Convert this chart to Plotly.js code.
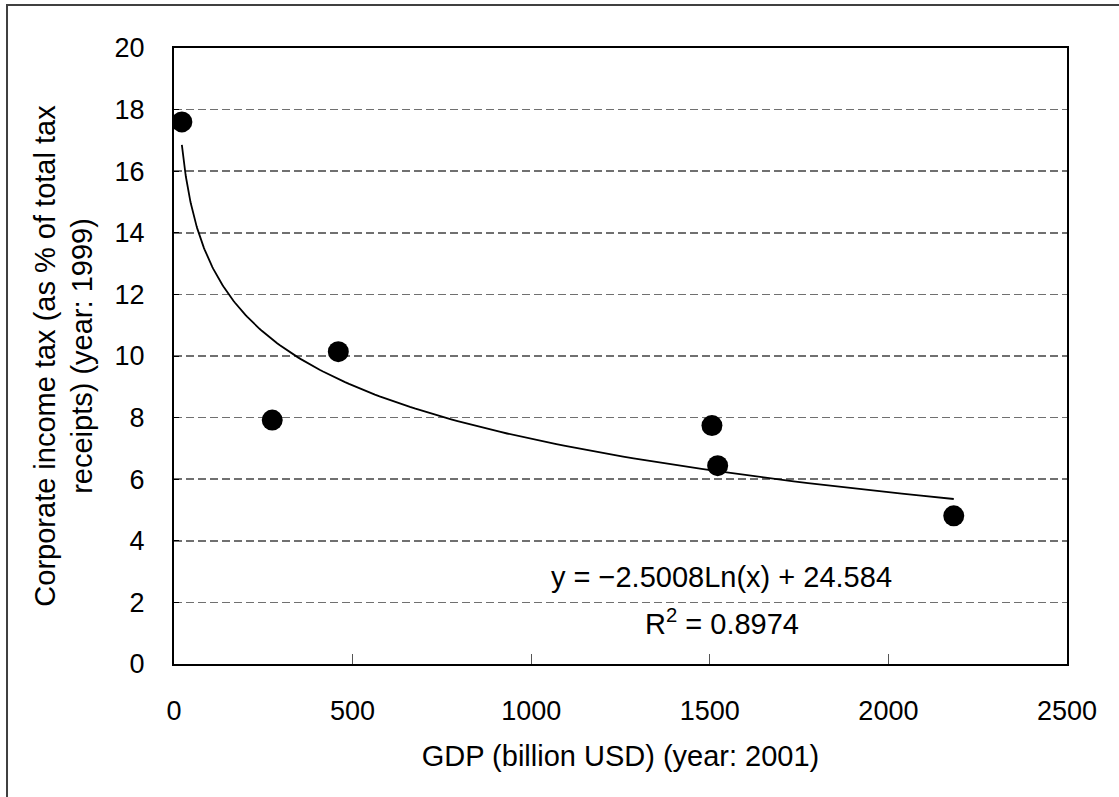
<!DOCTYPE html>
<html>
<head>
<meta charset="utf-8">
<script src="https://cdn.plot.ly/plotly-3.0.1.min.js"></script>
<style>
  html, body { margin: 0; padding: 0; background: #fff; }
  #chart { width: 1119px; height: 797px; }
</style>
</head>
<body>
<div id="chart"></div>
<script>
// GDP (billion USD, 2001) and corporate income tax share (% of total tax receipts, 1999)
const gdp = [22, 275, 460, 1506, 1522, 2183];
const corpTax = [17.6, 7.92, 10.14, 7.74, 6.44, 4.81];

// Logarithmic trendline coefficients, as printed on the chart
const trendSlope = -2.5008;
const trendIntercept = 24.584;
const trendEquation = "y = \u22122.5008Ln(x) + 24.584";
const trendR2 = "R<sup>2</sup> = 0.8974";

const xTicks = [0, 500, 1000, 1500, 2000, 2500];
const yTicks = [0, 2, 4, 6, 8, 10, 12, 14, 16, 18, 20];

// trendline drawn between the smallest and largest GDP value
const xMin = Math.min(...gdp), xMax = Math.max(...gdp);
const trendX = [], trendY = [];
const steps = 200;
for (let i = 0; i <= steps; i++) {
  const x = xMin * Math.pow(xMax / xMin, i / steps);
  trendX.push(x);
  trendY.push(trendSlope * Math.log(x) + trendIntercept);
}

const FONT = "Liberation Sans, Arial, sans-serif";

const traces = [
  {
    x: trendX, y: trendY, type: "scatter", mode: "lines",
    line: { color: "#000", width: 1.8 }, hoverinfo: "skip", showlegend: false
  },
  {
    x: gdp, y: corpTax, type: "scatter", mode: "markers",
    marker: { color: "#000", size: 21, symbol: "circle" }, showlegend: false
  }
];

const layout = {
  width: 1119, height: 797,
  paper_bgcolor: "#fff", plot_bgcolor: "#fff",
  margin: { l: 174, r: 52, t: 48, b: 133, pad: 0 },
  font: { family: FONT, size: 27, color: "#000" },
  showlegend: false,
  xaxis: {
    range: [0, 2500], tickvals: xTicks, ticktext: xTicks.map(String),
    showgrid: false, zeroline: false,
    showline: true, linecolor: "#000", linewidth: 2, mirror: true,
    ticks: "inside", ticklen: 10, tickwidth: 1, tickcolor: "#555",
    ticklabelstandoff: 22,
    tickfont: { family: FONT, size: 27, color: "#000" },
    title: { text: "GDP (billion USD) (year: 2001)", font: { family: FONT, size: 29, color: "#000" }, standoff: 20 },
    automargin: false
  },
  yaxis: {
    range: [0, 20], tickvals: yTicks, ticktext: yTicks.map(String),
    showgrid: true, gridcolor: "#707070", gridwidth: 1.5, griddash: "8px,4px",
    zeroline: false,
    showline: true, linecolor: "#000", linewidth: 2, mirror: true,
    ticks: "inside", ticklen: 5, tickwidth: 1, tickcolor: "#000",
    ticklabelstandoff: 22,
    tickfont: { family: FONT, size: 27, color: "#000" },
    title: { text: "Corporate income tax (as % of total tax<br>receipts) (year: 1999)", font: { family: FONT, size: 29, color: "#000" }, standoff: 13 },
    automargin: false
  },
  annotations: [
    { x: 1534, y: 2.82, xref: "x", yref: "y", text: trendEquation, showarrow: false,
      xanchor: "center", yanchor: "middle", font: { family: FONT, size: 29, color: "#000" } },
    { x: 1534, y: 1.38, xref: "x", yref: "y", text: trendR2, showarrow: false,
      xanchor: "center", yanchor: "middle", font: { family: FONT, size: 29, color: "#000" } }
  ],
  shapes: [
    { type: "rect", xref: "paper", yref: "paper",
      x0: -0.187, x1: 1.07, y0: -0.235, y1: 1.0698,
      line: { color: "#404040", width: 2 }, fillcolor: "rgba(0,0,0,0)", layer: "below" }
  ]
};

Plotly.newPlot("chart", traces, layout, { displayModeBar: false, staticPlot: true });
</script>
</body>
</html>
